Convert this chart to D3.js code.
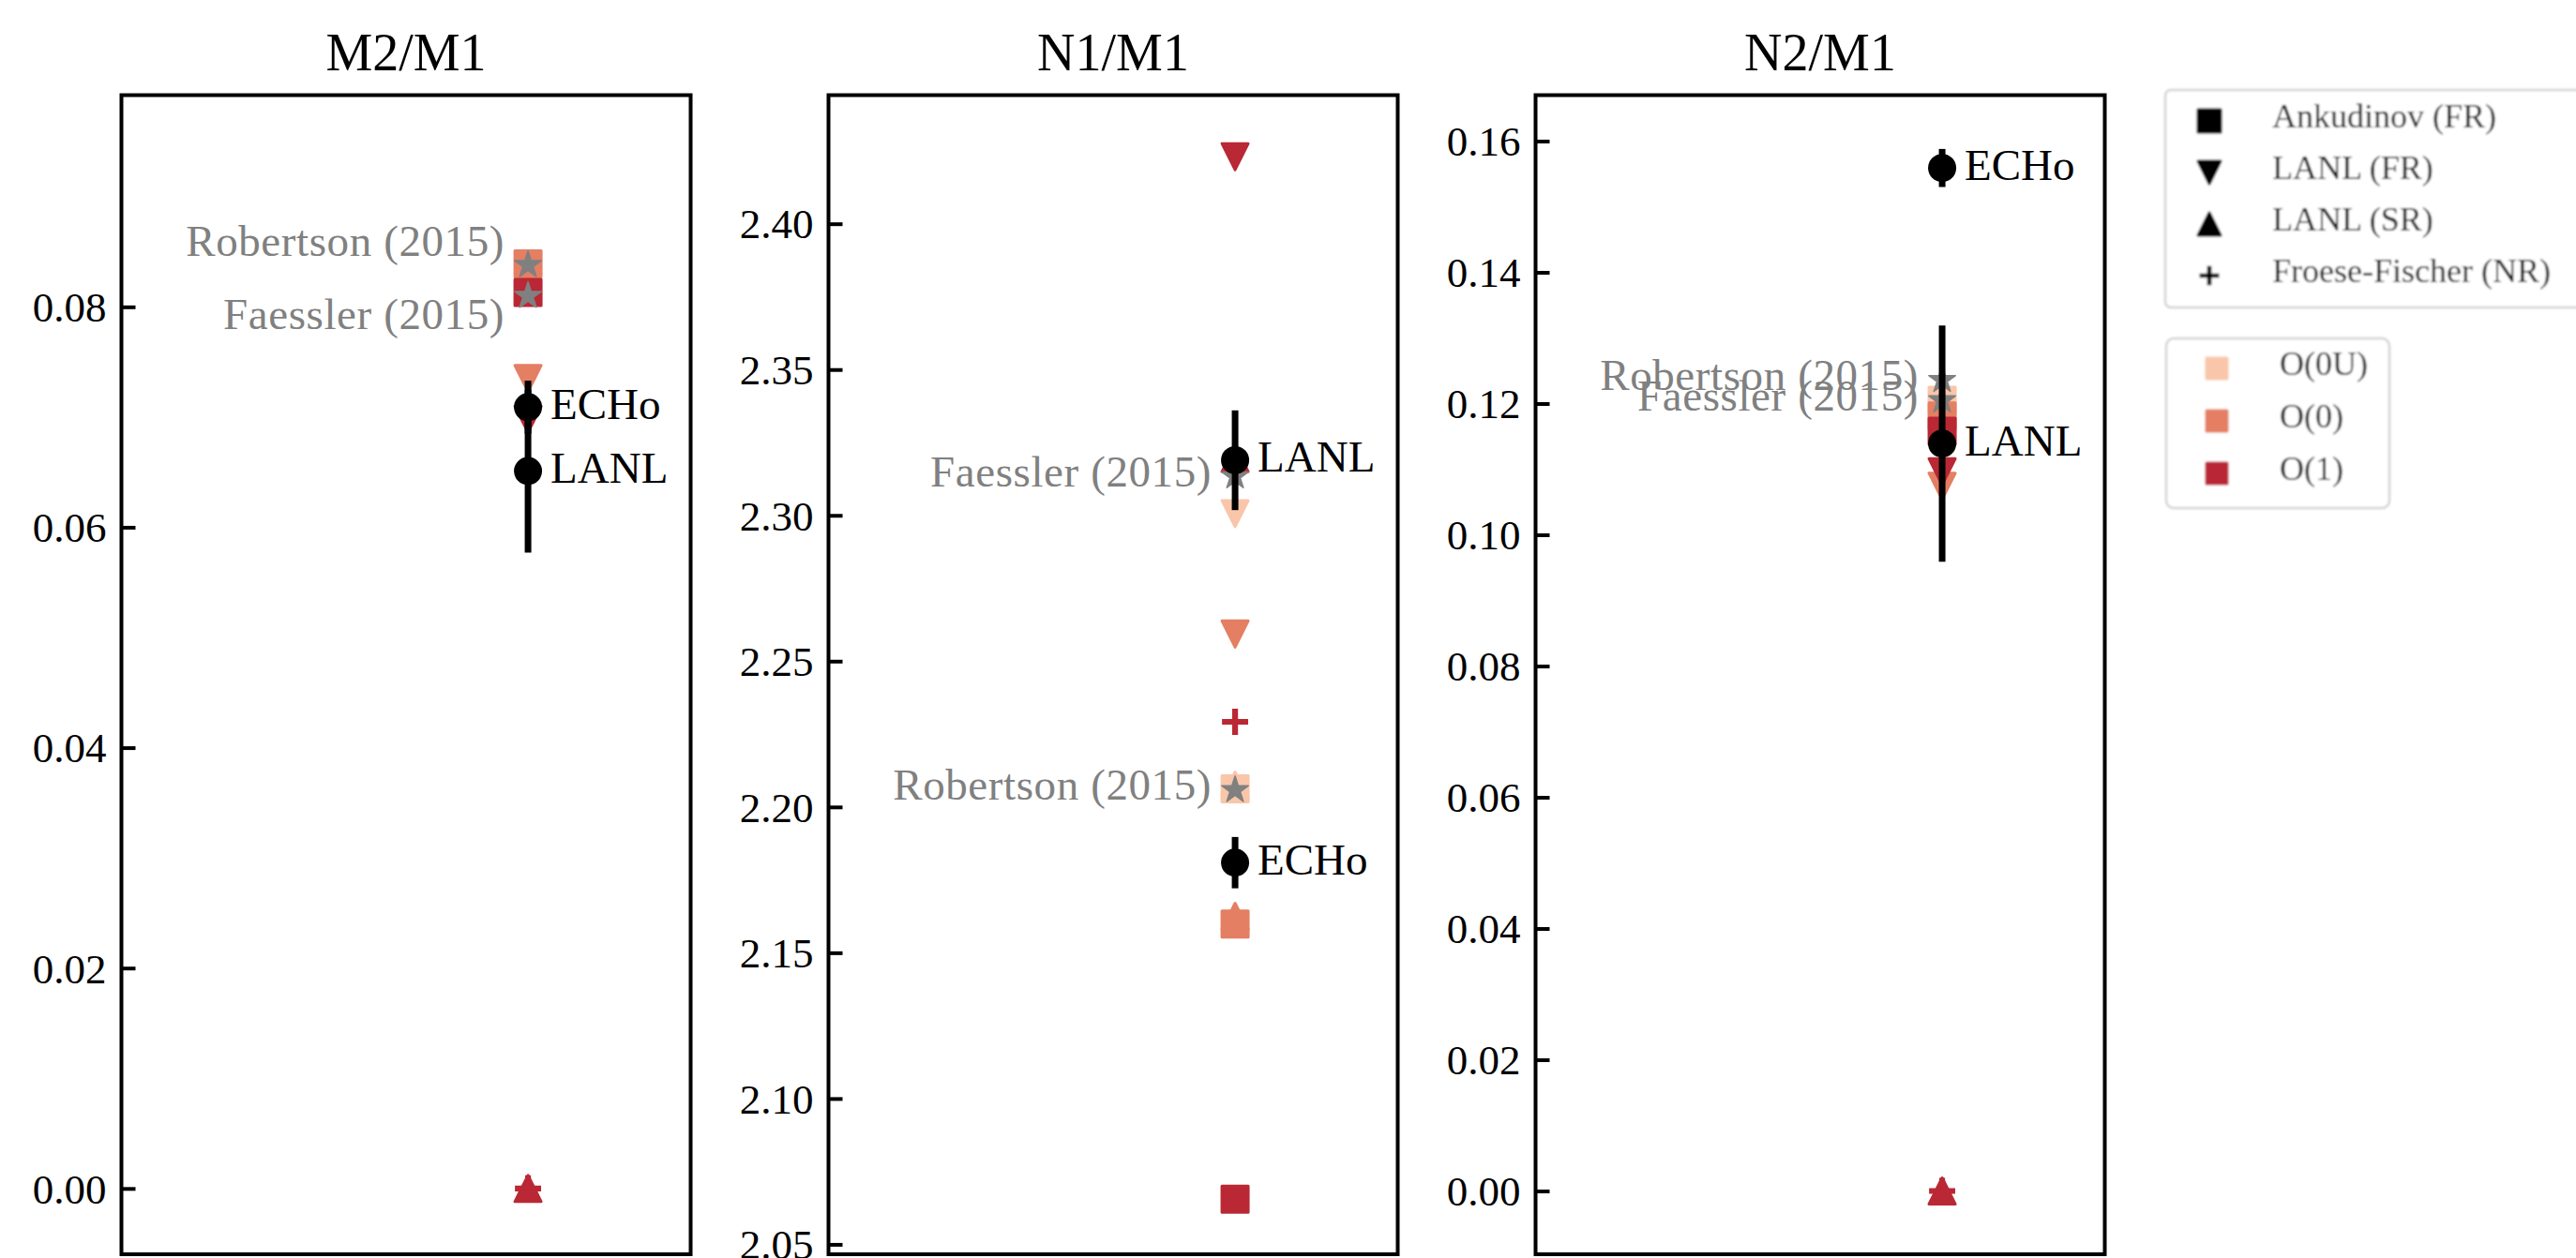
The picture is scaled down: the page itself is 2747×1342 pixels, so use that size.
<!DOCTYPE html>
<html>
<head>
<meta charset="utf-8">
<script src="https://cdn.jsdelivr.net/npm/d3@7"></script>
<style>
  body { margin: 0; background: #fff; }
  svg { display: block; }
  text { font-family: "Liberation Serif", "DejaVu Serif", serif; }
</style>
</head>
<body>
<svg id="chart" width="2747" height="1342"></svg>
<script>
// ---- data -------------------------------------------------------------
const panels = ["M2/M1", "N1/M1", "N2/M1"];
const orders = ["O(0U)", "O(0)", "O(1)"];
const models = ["Ankudinov (FR)", "LANL (FR)", "LANL (SR)", "Froese-Fischer (NR)"];

// calculated ratios, one row per panel, one entry per order (O(0U), O(0), O(1))
const ankudinov     = [[null, 0.0839, 0.0813], [2.2062, 2.1598, 2.0655], [0.1205, 0.1181, 0.1158]];
const lanlFR        = [[null, 0.0735, 0.0698], [2.3006, 2.2593, 2.4230], [null, 0.1074, 0.1096]];
const lanlSR        = [[null, null, 0.0],      [2.2075, 2.1625, 2.3195], [null, null, 0.0]];
const froeseFischer = [[null, null, 0.0],      [null, null, 2.2292],     [null, null, 0.0]];

// literature values
const robertson = [0.0838, 2.2058, 0.1236];
const faessler  = [0.0810, 2.3134, 0.1205];

// measured ratios with uncertainties
const echoValue = [0.0709, 2.1809, 0.1559];
const echoError = [0.0024, 0.0088, 0.0029];
const lanlValue = [0.0651, 2.3189, 0.1139];
const lanlError = [0.0074, 0.0171, 0.0180];

// axis limits and ticks
const yLimits = [[-0.00597, 0.09921], [2.0466, 2.4441], [-0.00964, 0.16700]];
const yTicks = [
  [0.00, 0.02, 0.04, 0.06, 0.08],
  [2.05, 2.10, 2.15, 2.20, 2.25, 2.30, 2.35, 2.40],
  [0.00, 0.02, 0.04, 0.06, 0.08, 0.10, 0.12, 0.14, 0.16]
];
const xLimits = [-2.5, 1];
const xPosition = 0;

// ---- styling ----------------------------------------------------------
const orderColors = ["#f9c6aa", "#e47f63", "#b92834"];
const refColor = "#808080";
const markerShapes = ["square", "triangle-down", "triangle-up", "plus"];
// vertical alignment of the Robertson / Faessler annotations per panel
const refAlign = [["bottom", "top"], ["center", "center"], ["center", "center"]];

const W = 2747, H = 1342;
const panelLeft0 = 129.5, panelStep = 754, panelW = 607;
const plotTop = 101.5, plotBottom = 1338;

const svg = d3.select("#chart");
svg.append("rect").attr("width", W).attr("height", H).attr("fill", "#fff");

const defs = svg.append("defs");
defs.append("filter").attr("id", "soft")
  .attr("x", "-5%").attr("y", "-5%").attr("width", "110%").attr("height", "110%")
  .append("feGaussianBlur").attr("stdDeviation", 0.8);

// ---- marker drawing ---------------------------------------------------
function starPath(R) {
  const r = R * 0.381966;
  const pts = [];
  for (let k = 0; k < 10; k++) {
    const rad = k % 2 === 0 ? R : r;
    const a = -Math.PI / 2 + k * Math.PI / 5;
    pts.push([rad * Math.cos(a), rad * Math.sin(a)]);
  }
  return "M" + pts.map(p => p[0].toFixed(2) + "," + p[1].toFixed(2)).join("L") + "Z";
}

function drawMarker(g, shape, cx, cy, color, size) {
  const s = size - 3;            // body size, edge stroke adds the rest
  const h = s / 2;
  if (shape === "square") {
    g.append("rect").attr("x", cx - h).attr("y", cy - h).attr("width", s).attr("height", s)
      .attr("fill", color).attr("stroke", color).attr("stroke-width", 3)
      .attr("stroke-linejoin", "round");
  } else if (shape === "triangle-down") {
    g.append("path").attr("d", `M${cx},${cy + h}L${cx - h},${cy - h}L${cx + h},${cy - h}Z`)
      .attr("fill", color).attr("stroke", color).attr("stroke-width", 3)
      .attr("stroke-linejoin", "round");
  } else if (shape === "triangle-up") {
    g.append("path").attr("d", `M${cx},${cy - h}L${cx - h},${cy + h}L${cx + h},${cy + h}Z`)
      .attr("fill", color).attr("stroke", color).attr("stroke-width", 3)
      .attr("stroke-linejoin", "round");
  } else if (shape === "plus") {
    const a = size * 0.45;
    g.append("path").attr("d", `M${cx - a},${cy}H${cx + a}M${cx},${cy - a}V${cy + a}`)
      .attr("fill", "none").attr("stroke", color).attr("stroke-width", size * 0.2);
  } else if (shape === "star") {
    g.append("path").attr("d", starPath(size / 2)).attr("transform", `translate(${cx},${cy})`)
      .attr("fill", color).attr("stroke", color).attr("stroke-width", 1.5)
      .attr("stroke-linejoin", "round");
  } else if (shape === "circle") {
    g.append("circle").attr("cx", cx).attr("cy", cy).attr("r", size / 2).attr("fill", color);
  }
}

function refBaseline(align) {
  if (align === "bottom") return -10;
  if (align === "top") return 35;
  return 10.5;
}

// ---- panels -----------------------------------------------------------
const modelSeries = [ankudinov, lanlFR, lanlSR, froeseFischer];

panels.forEach((title, i) => {
  const left = panelLeft0 + i * panelStep;
  const x = d3.scaleLinear().domain(xLimits).range([left, left + panelW]);
  const y = d3.scaleLinear().domain(yLimits[i]).range([plotBottom, plotTop]);
  const g = svg.append("g");

  // y axis with inward ticks
  const axis = d3.axisLeft(y)
    .tickValues(yTicks[i])
    .tickFormat(d3.format(".2f"))
    .tickSizeInner(-15)
    .tickSizeOuter(0)
    .tickPadding(16);
  const ag = g.append("g").attr("transform", `translate(${left},0)`).call(axis);
  ag.select(".domain").remove();
  ag.selectAll(".tick line").attr("stroke", "#000").attr("stroke-width", 4);
  ag.selectAll(".tick text")
    .attr("fill", "#000")
    .attr("dy", "0.34em")
    .style("font-family", '"Liberation Serif", serif')
    .style("font-size", "45px");

  const cx = x(xPosition);
  const marks = g.append("g");

  // calculated values: each model, in order O(0U) -> O(1)
  modelSeries.forEach((series, m) => {
    series[i].forEach((v, o) => {
      if (v === null) return;
      drawMarker(marks, markerShapes[m], cx, y(v), orderColors[o], 31);
    });
  });

  // literature values
  drawMarker(marks, "star", cx, y(robertson[i]), refColor, 30);
  drawMarker(marks, "star", cx, y(faessler[i]), refColor, 30);

  // measurements with error bars
  [[echoValue, echoError], [lanlValue, lanlError]].forEach(([vals, errs]) => {
    marks.append("line")
      .attr("x1", cx).attr("x2", cx)
      .attr("y1", y(vals[i] - errs[i])).attr("y2", y(vals[i] + errs[i]))
      .attr("stroke", "#000").attr("stroke-width", 7);
  });
  [echoValue, lanlValue].forEach(vals => {
    drawMarker(marks, "circle", cx, y(vals[i]), "#000", 30);
  });

  // annotations
  const refs = [["Robertson (2015)", robertson[i]], ["Faessler (2015)", faessler[i]]];
  refs.forEach(([label, v], k) => {
    g.append("text")
      .attr("x", cx - 25)
      .attr("y", y(v) + refBaseline(refAlign[i][k]))
      .attr("text-anchor", "end")
      .attr("fill", refColor)
      .style("font-size", "47px")
      .style("letter-spacing", "0.6px")
      .text(label);
  });
  [["ECHo", echoValue[i]], ["LANL", lanlValue[i]]].forEach(([label, v]) => {
    g.append("text")
      .attr("x", cx + 24)
      .attr("y", y(v) + 12.5)
      .attr("fill", "#000")
      .style("font-size", "47px")
      .text(label);
  });

  // frame
  g.append("rect")
    .attr("x", left).attr("y", plotTop)
    .attr("width", panelW).attr("height", plotBottom - plotTop)
    .attr("fill", "none").attr("stroke", "#000").attr("stroke-width", 4);

  // title
  g.append("text")
    .attr("x", left + panelW / 2).attr("y", 75)
    .attr("text-anchor", "middle")
    .attr("fill", "#000")
    .style("font-size", "56px")
    .text(title);
});

// ---- legends ----------------------------------------------------------
const leg = svg.append("g").attr("filter", "url(#soft)");

// marker-shape legend
leg.append("rect")
  .attr("x", 2309).attr("y", 96).attr("width", 520).attr("height", 232)
  .attr("rx", 6).attr("fill", "#fff").attr("stroke", "#d4d4d4").attr("stroke-width", 2.5);
models.forEach((name, k) => {
  const yy = 129 + k * 55;
  drawMarker(leg, markerShapes[k], 2356, yy, "#000", k === 3 ? 23 : 27);
  leg.append("text")
    .attr("x", 2423).attr("y", yy + 7)
    .attr("fill", "#000")
    .style("font-size", "36px")
    .text(name);
});

// colour legend
leg.append("rect")
  .attr("x", 2310).attr("y", 361).attr("width", 238).attr("height", 181)
  .attr("rx", 8).attr("fill", "#fff").attr("stroke", "#d4d4d4").attr("stroke-width", 2.5);
orders.forEach((name, k) => {
  const yy = 393 + k * 56;
  drawMarker(leg, "square", 2364, yy, orderColors[k], 25);
  leg.append("text")
    .attr("x", 2431).attr("y", yy + 7)
    .attr("fill", "#000")
    .style("font-size", "36px")
    .text(name);
});
</script>
</body>
</html>
